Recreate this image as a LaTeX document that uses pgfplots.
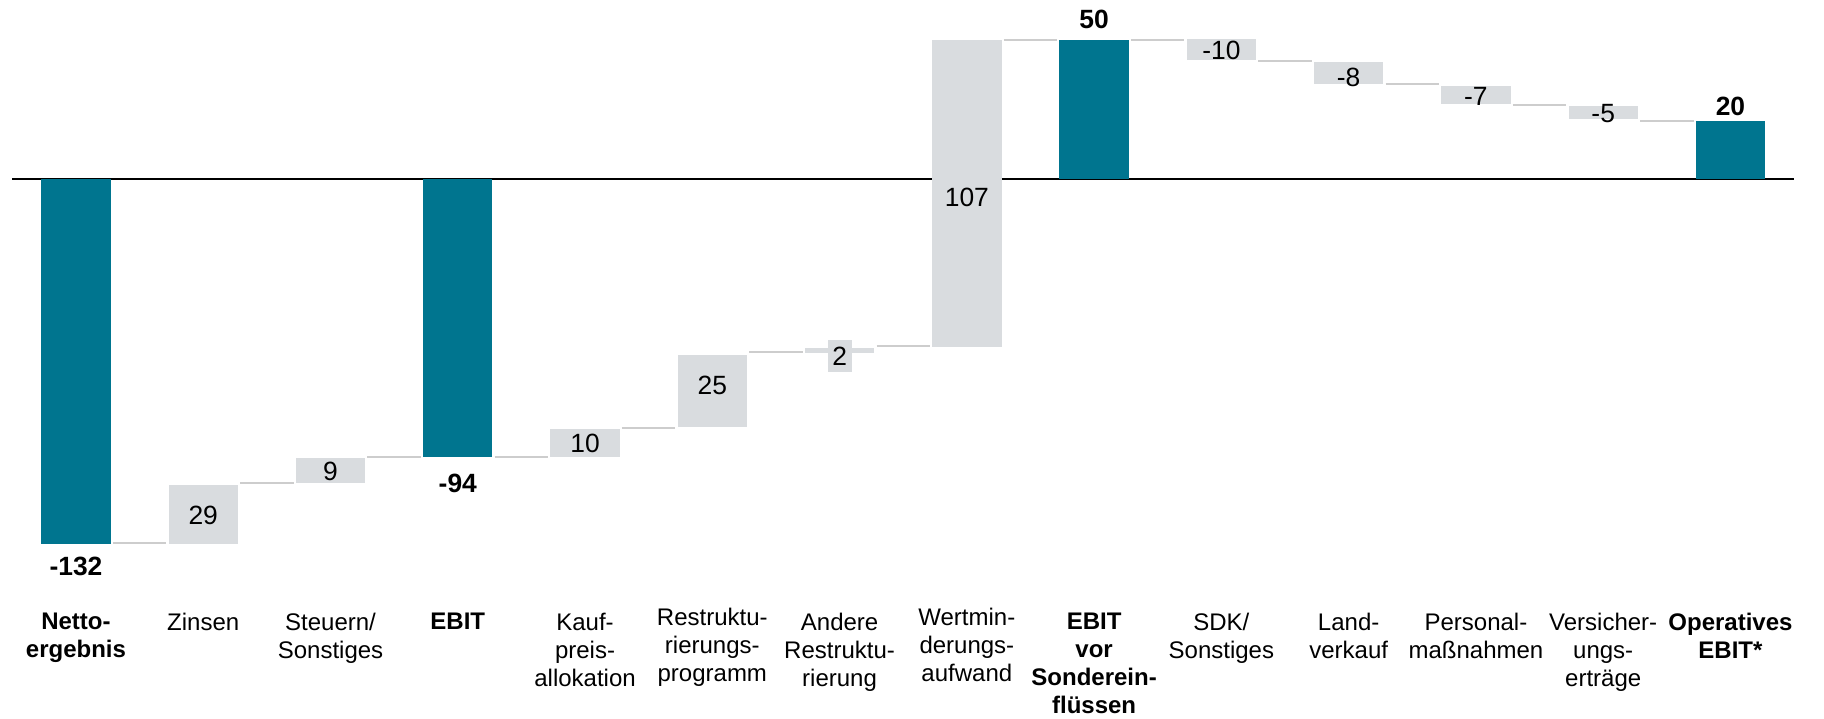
\documentclass[border=0pt]{standalone}
\usepackage{fontspec}
\setmainfont{Liberation Sans}
\usepackage{pgfplots}
\pgfplotsset{compat=1.18}
\definecolor{teal}{RGB}{0,117,143}
\definecolor{boxgray}{RGB}{217,220,223}
\definecolor{congray}{RGB}{205,205,205}

\begin{document}
\begin{tikzpicture}[lbl/.style={font=\fontsize{13.2}{15}\selectfont, inner sep=0pt}]
\begin{axis}[
  scale only axis,
  width=912pt, height=359pt,
  xmin=-0.597, xmax=13.735,
  ymin=-193.36, ymax=64.36,
  axis line style={draw=none},
  ytick=\empty,
  clip=false,
  xtick={0,1,2,3,4,6,8,9,10,11,12,13},
  xtick style={draw=none},
  xticklabels={
    {\textbf{Netto-}\\\textbf{ergebnis}},
    {Zinsen},
    {Steuern/\\Sonstiges},
    {\textbf{EBIT}},
    {Kauf-\\preis-\\allokation},
    {Andere\\Restruktu-\\rierung},
    {\textbf{EBIT}\\\textbf{vor}\\\textbf{Sonderein-}\\\textbf{flüssen}},
    {SDK/\\Sonstiges},
    {Land-\\verkauf},
    {Personal-\\maßnahmen},
    {Versicher-\\ungs-\\erträge},
    {\textbf{Operatives}\\\textbf{EBIT*}}
  },
  xticklabel style={align=center, anchor=north, inner sep=0pt, yshift=52.6pt,
    font=\fontsize{12}{14}\selectfont},
  extra x ticks={5,7},
  extra x tick labels={
    {Restruktu-\\rierungs-\\programm},
    {Wertmin-\\derungs-\\aufwand}
  },
  extra x tick style={xticklabel style={yshift=2.6pt}},
  tot/.style={fill=teal, draw=none},
  dlt/.style={fill=boxgray, draw=none},
]
% zero line
\addplot[black, line width=0.8pt] coordinates {(-0.5,0) (13.5,0)};
% connectors
\addplot[congray, line width=1pt, unbounded coords=jump] coordinates {
  (0.29,-130.6) (0.71,-130.6) (1,nan)
  (1.29,-109.0) (1.71,-109.0) (2,nan)
  (2.29,-99.8) (2.71,-99.8) (3,nan)
  (3.29,-99.8) (3.71,-99.8) (4,nan)
  (4.29,-89.2) (4.71,-89.2) (5,nan)
  (5.29,-62.1) (5.71,-62.1) (6,nan)
  (6.29,-59.9) (6.71,-59.9) (7,nan)
  (7.29,50) (7.71,50) (8,nan)
  (8.29,50) (8.71,50) (9,nan)
  (9.29,42.4) (9.71,42.4) (10,nan)
  (10.29,34.2) (10.71,34.2) (11,nan)
  (11.29,26.8) (11.71,26.8) (12,nan)
  (12.29,21.1) (12.71,21.1)
};
% bars: (left,low) (right,low) (right,high) (left,high)
\addplot[tot] coordinates {(-0.2725,-131.0) (0.2725,-131.0) (0.2725,0) (-0.2725,0)} --cycle;
\addplot[dlt] coordinates {(0.7275,-131.0) (1.2725,-131.0) (1.2725,-109.7) (0.7275,-109.7)} --cycle;
\addplot[dlt] coordinates {(1.7275,-109.1) (2.2725,-109.1) (2.2725,-100.1) (1.7275,-100.1)} --cycle;
\addplot[tot] coordinates {(2.7275,-99.7) (3.2725,-99.7) (3.2725,0) (2.7275,0)} --cycle;
\addplot[dlt] coordinates {(3.7275,-99.6) (4.2725,-99.6) (4.2725,-89.7) (3.7275,-89.7)} --cycle;
\addplot[dlt] coordinates {(4.7275,-88.8) (5.2725,-88.8) (5.2725,-63.1) (4.7275,-63.1)} --cycle;
\addplot[dlt] coordinates {(5.7275,-62.3) (6.2725,-62.3) (6.2725,-60.6) (5.7275,-60.6)} --cycle;
\addplot[dlt] coordinates {(6.7275,-60.1) (7.2725,-60.1) (7.2725,50.0) (6.7275,50.0)} --cycle;
\addplot[tot] coordinates {(7.7275,0) (8.2725,0) (8.2725,50.0) (7.7275,50.0)} --cycle;
\addplot[dlt] coordinates {(8.7275,42.7) (9.2725,42.7) (9.2725,50.2) (8.7275,50.2)} --cycle;
\addplot[dlt] coordinates {(9.7275,34.3) (10.2725,34.3) (10.2725,42.1) (9.7275,42.1)} --cycle;
\addplot[dlt] coordinates {(10.7275,26.9) (11.2725,26.9) (11.2725,33.5) (10.7275,33.5)} --cycle;
\addplot[dlt] coordinates {(11.7275,21.6) (12.2725,21.6) (12.2725,26.3) (11.7275,26.3)} --cycle;
\addplot[tot] coordinates {(12.7275,0) (13.2725,0) (13.2725,20.9) (12.7275,20.9)} --cycle;
% value labels
\node[lbl] at (axis cs:0,-139.0) {\textbf{-132}};
\node[lbl] at (axis cs:1,-120.8) {29};
\node[lbl] at (axis cs:2,-105.0) {9};
\node[lbl] at (axis cs:3,-109.1) {\textbf{-94}};
\node[lbl] at (axis cs:4,-94.8) {10};
\node[lbl] at (axis cs:5,-74.0) {25};
\node[lbl, fill=boxgray, inner xsep=2.3pt, inner ysep=3.5pt] at (axis cs:6,-63.5) {2};
\node[lbl] at (axis cs:7,-6.6) {107};
\node[lbl] at (axis cs:8,57.5) {\textbf{50}};
\node[lbl] at (axis cs:9,46.1) {-10};
\node[lbl] at (axis cs:10,36.6) {-8};
\node[lbl] at (axis cs:11,29.6) {-7};
\node[lbl] at (axis cs:12,23.7) {-5};
\node[lbl] at (axis cs:13,26.3) {\textbf{20}};
\end{axis}
\end{tikzpicture}
\end{document}
